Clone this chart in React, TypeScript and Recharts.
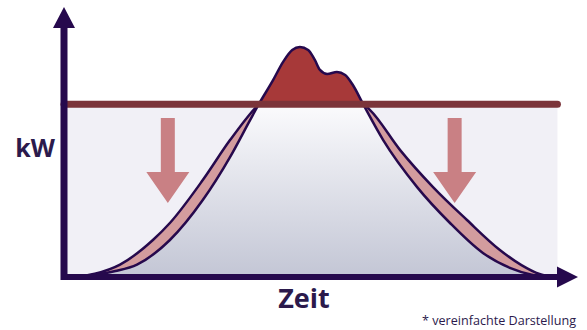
import * as React from 'react'
import { Area, ComposedChart, Label, ReferenceArea, ReferenceLine, XAxis, YAxis } from 'recharts'

// DATA (simplified load profile, arbitrary units: time 0..100, kW 0..100)

const LIMIT = 64

const timeOriginal = [2, 6, 10, 14.2, 20.6, 27.0, 32.3, 36.2, 37.9, 40.7, 42.6, 44.4, 45.9, 47.5, 48.8, 49.8, 51.2, 53.1, 54.7, 56.2, 58.2, 62.1, 68.7, 75.1, 81.5, 87, 91, 94]
const loadOriginal = [0, 0.8, 2.2, 4.6, 13.7, 28.5, 44.4, 58.1, 64, 73.0, 79.6, 84.1, 85.2, 84.1, 80.4, 76.7, 75.2, 75.9, 74.8, 71.1, 64, 50.7, 33.3, 20, 8.9, 3.2, 0.8, 0]

const timeShaved = [2, 6, 10.9, 17.3, 20.6, 27.0, 32.3, 37.2, 37.9, 45, 52, 58.2, 59.5, 65.4, 71.8, 78.4, 84.8, 89, 92.5, 95]
const loadShaved = [0, 1.2, 4.6, 13.7, 20, 35.9, 50.7, 62.6, 64, 64, 64, 64, 61.9, 47, 33.3, 21.1, 10, 4.4, 1.1, 0]

// shifted-load arrows: [time, from kW, to kW]
const shiftArrows = [[20.2, 58.9, 27.4], [76.0, 58.9, 27.4]]

const original = timeOriginal.map((t, i) => ({ t, kw: loadOriginal[i] }))
const shaved = timeShaved.map((t, i) => ({ t, kw: loadShaved[i] }))

// COLOURS

const PURPLE = '#26094d'
const TEXT = '#2b1a4c'
const PEAK = '#a73939'
const LIMIT_LINE = '#7b343a'
const SHIFT = '#d39c9e'
const ARROW = '#c98084'

// arrow polygon along a reference segment
const arrowShape = (shaft: number, headWidth: number, headLength: number, fill: string, tail = 0) => (props: any) => {
    const { x1, y1, x2, y2 } = props
    if ([x1, y1, x2, y2].some(v => typeof v !== 'number' || isNaN(v))) return <g/>
    const len = Math.hypot(x2 - x1, y2 - y1)
    const ux = (x2 - x1) / len
    const uy = (y2 - y1) / len
    const nx = -uy
    const ny = ux
    const sx = x1 - ux * tail
    const sy = y1 - uy * tail
    const bx = x2 - ux * headLength
    const by = y2 - uy * headLength
    const pts = [
        [sx + nx * shaft / 2, sy + ny * shaft / 2],
        [bx + nx * shaft / 2, by + ny * shaft / 2],
        [bx + nx * headWidth / 2, by + ny * headWidth / 2],
        [x2, y2],
        [bx - nx * headWidth / 2, by - ny * headWidth / 2],
        [bx - nx * shaft / 2, by - ny * shaft / 2],
        [sx - nx * shaft / 2, sy - ny * shaft / 2],
    ]
    return <polygon points={pts.map(p => p.join(',')).join(' ')} fill={fill}/>
}

const peakMax = Math.max(...loadOriginal)
const peakOffset = (peakMax - LIMIT) / peakMax

export default function App() {
    return (
        <div style={{ width: 587, height: 330, background: '#fff' }}>
            <style>{'body{margin:0}'}</style>
            <ComposedChart width={587} height={330} margin={{ top: 7, right: 9, bottom: 0, left: 0 }}
                style={{ fontFamily: '"Open Sans", sans-serif' }}>
                <defs>
                    <linearGradient id='loadFill' x1='0' y1='0' x2='0' y2='1'>
                        <stop offset={0} stopColor={PEAK}/>
                        <stop offset={peakOffset} stopColor={PEAK}/>
                        <stop offset={peakOffset} stopColor='#fbfbfd'/>
                        <stop offset={1} stopColor='#c3c6d5'/>
                    </linearGradient>
                </defs>
                <XAxis dataKey='t' type='number' domain={[0, 100]} height={53} tick={false} tickLine={false} axisLine={false} allowDataOverflow>
                    <Label value='Zeit' position='center' dx={-17} dy={-5} fill={TEXT} fontSize={27} fontWeight={700}/>
                    <Label value='* vereinfachte Darstellung' position='insideBottomRight' offset={5} dx={3} fill={TEXT} fontSize={12.6}/>
                </XAxis>
                <YAxis type='number' domain={[0, 100]} width={64} tick={false} tickLine={false} axisLine={false} allowDataOverflow>
                    <Label value='kW' position='center' dx={3} dy={6} fill={TEXT} fontSize={25} fontWeight={700}/>
                </YAxis>
                <ReferenceArea x1={0} x2={96} y1={0} y2={LIMIT} fill='#f1f0f6' fillOpacity={1} stroke='none' zIndex={-10}/>
                <Area name='Verschobene Last' data={shaved} dataKey='kw' type='monotone' isAnimationActive={false}
                    stroke={PURPLE} strokeWidth={2.5} fill={SHIFT} fillOpacity={1} zIndex={100}/>
                <Area name='Lastgang' data={original} dataKey='kw' type='monotone' isAnimationActive={false}
                    stroke={PURPLE} strokeWidth={2.5} fill='url(#loadFill)' fillOpacity={1} zIndex={101}/>
                <ReferenceLine segment={[{ x: 0, y: LIMIT }, { x: 96, y: LIMIT }]} stroke={LIMIT_LINE} strokeWidth={7} strokeLinecap='round' zIndex={800}/>
                {shiftArrows.map(([t, from, to], i) => (
                    <ReferenceLine key={i} segment={[{ x: t, y: from }, { x: t, y: to }]} shape={arrowShape(14, 43, 31, ARROW)} zIndex={900}/>
                ))}
                <ReferenceLine segment={[{ x: 0, y: 0 }, { x: 100, y: 0 }]} shape={arrowShape(6, 21, 21, PURPLE, 3)} zIndex={1000}/>
                <ReferenceLine segment={[{ x: 0, y: 0 }, { x: 0, y: 100 }]} shape={arrowShape(7, 22, 21, PURPLE, 3)} zIndex={1000}/>
            </ComposedChart>
        </div>
    )
}
